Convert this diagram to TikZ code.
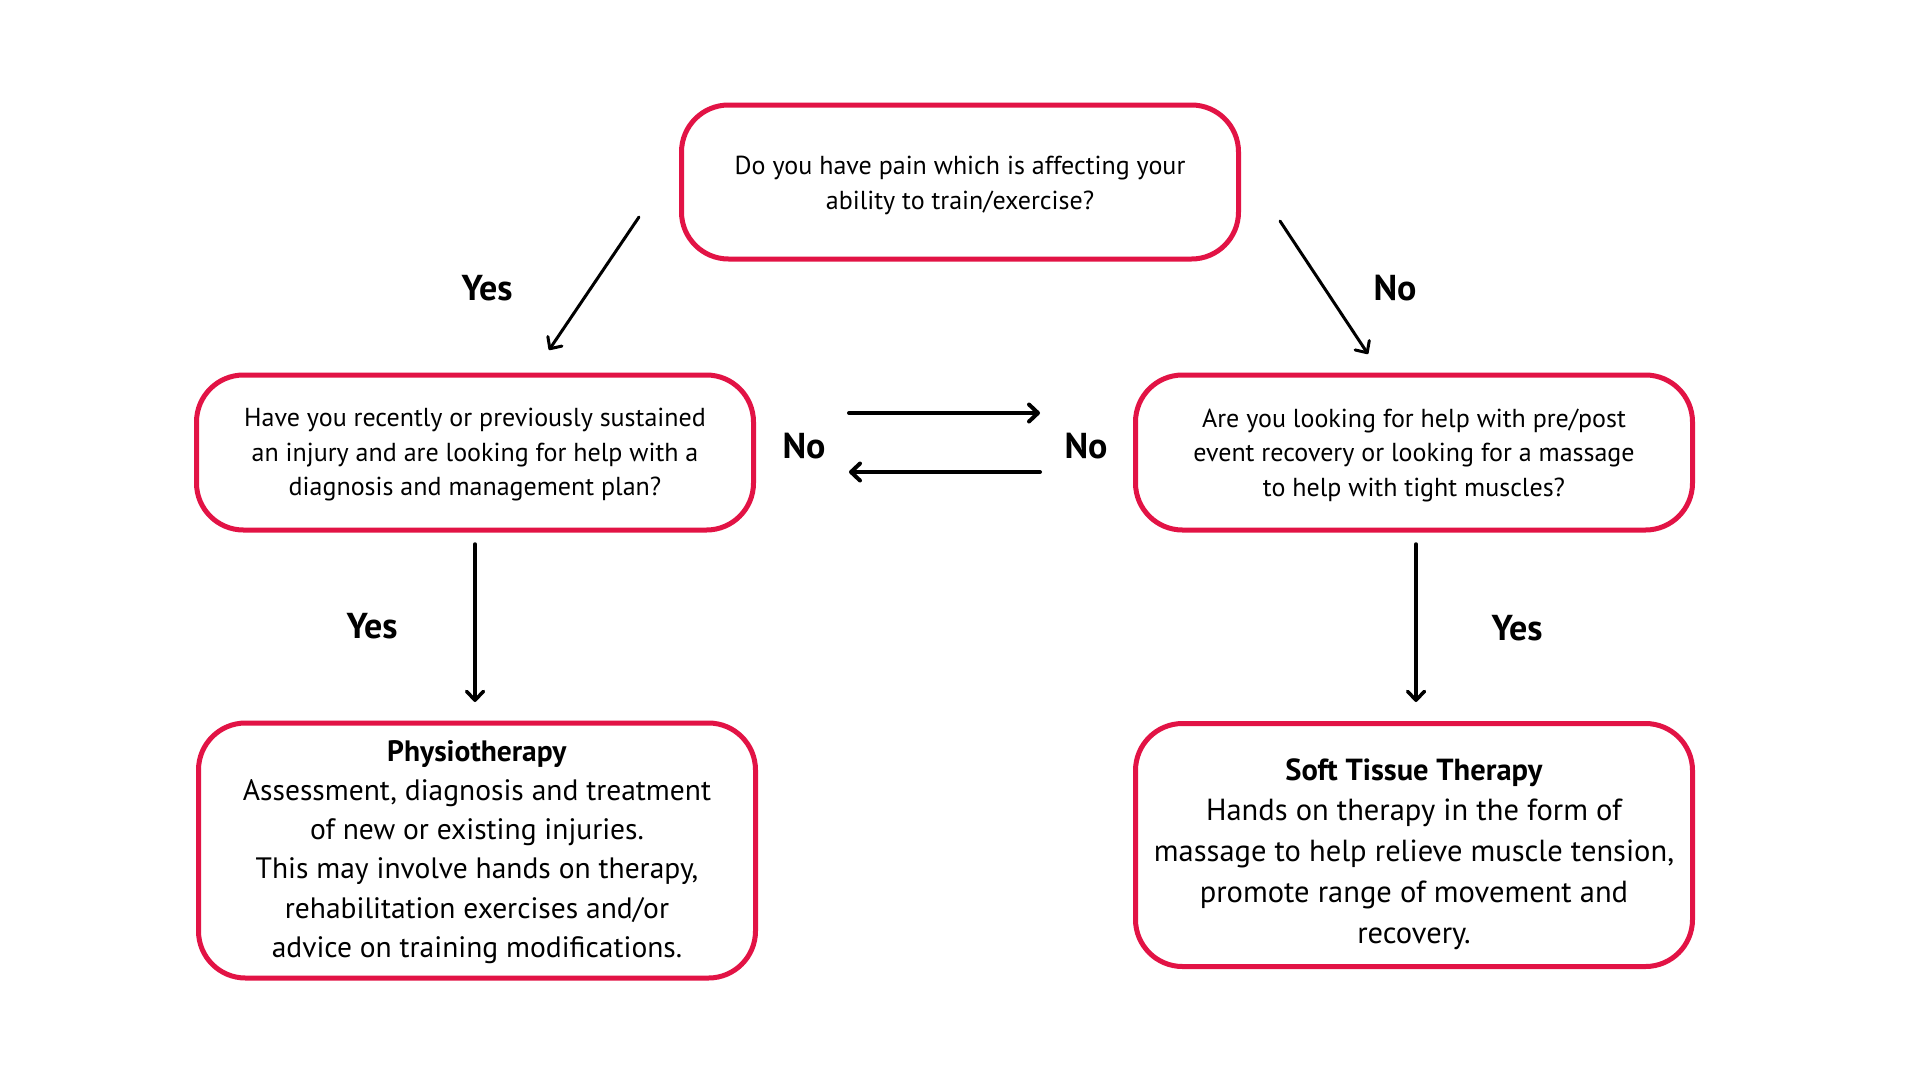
\documentclass[tikz,border=0pt]{standalone}
\usepackage{fontspec}
\setmainfont{PT Sans}
\usetikzlibrary{arrows.meta}
\definecolor{boxred}{RGB}{226,19,69}
\begin{document}
\begin{tikzpicture}[x=1pt,y=-1pt,
  qbox/.style={draw=boxred,line width=5pt,rounded corners=47pt,minimum width=557pt,inner sep=0pt},
  btext/.style={align=center,inner sep=0pt},
  qtext/.style={btext,font=\fontsize{26}{35}\selectfont},
  qtextb/.style={btext,font=\fontsize{26}{34.5}\selectfont},
  rtexta/.style={btext,font=\fontsize{29.5}{39.1}\selectfont},
  rtextb/.style={btext,font=\fontsize{30.5}{40.8}\selectfont},
  lbl/.style={font=\fontsize{36}{40}\selectfont\bfseries},
  arr/.style={line width=3.5pt,line cap=round,-{Straight Barb[length=9pt,width=17pt,line cap=round,line join=round]}}
]
\useasboundingbox (0,0) rectangle (1920,1080);
\fill[white] (0,0) rectangle (1920,1080);

% boxes
\node[qbox,minimum height=154pt] (q1) at (960,182) {};
\node[qbox,minimum height=155pt] (q2) at (475,452.5) {};
\node[qbox,minimum height=155pt] (q3) at (1414,452.5) {};
\node[qbox,minimum height=255pt] (physio) at (477,850.5) {};
\node[qbox,minimum height=243pt] (stt) at (1414,845) {};

% texts
\node[qtext] (q1t) at (960,185.5)
  {Do you have pain which is affecting your\\ability to train/exercise?};
\node[qtextb] (q2t) at (475,455)
  {Have you recently or previously sustained\\an injury and are looking for help with a\\diagnosis and management plan?};
\node[qtextb] (q3t) at (1414,455)
  {Are you looking for help with pre/post\\event recovery or looking for a massage\\to help with tight muscles?};
\node[rtexta] (physiot) at (477,852)
  {\textbf{Physiotherapy}\\Assessment, diagnosis and treatment\\of new or existing injuries.\\This may involve hands on therapy,\\rehabilitation exercises and/or\\advice on training modifications.};
\node[rtextb] (sttt) at (1414,854)
  {\textbf{Soft Tissue Therapy}\\Hands on therapy in the form of\\massage to help relieve muscle tension,\\promote range of movement and\\recovery.};

% connector end points
\coordinate (y1s) at (639,217);
\coordinate (y1e) at (549,350);
\coordinate (n1s) at (1280,221);
\coordinate (n1e) at (1368,354);
\coordinate (h1s) at (849,413);
\coordinate (h1e) at (1040,413);
\coordinate (h2s) at (1040,472);
\coordinate (h2e) at (849,472);
\coordinate (v1s) at (475,544);
\coordinate (v1e) at (475,702);
\coordinate (v2s) at (1416,544);
\coordinate (v2e) at (1416,702);

\draw[arr,line width=3pt] (y1s) -- (y1e);
\draw[arr,line width=3pt] (n1s) -- (n1e);
\draw[arr,line width=4pt] (h1s) -- (h1e);
\draw[arr,line width=4pt] (h2s) -- (h2e);
\draw[arr] (v1s) -- (v1e);
\draw[arr] (v2s) -- (v2e);

% labels
\node[lbl] (yes1) at (487,288) {Yes};
\node[lbl] (no1) at (1395,288) {No};
\node[lbl] (no2) at (804,446) {No};
\node[lbl] (no3) at (1086,446) {No};
\node[lbl] (yes2) at (372,626) {Yes};
\node[lbl] (yes3) at (1517,628) {Yes};
\end{tikzpicture}
\end{document}
